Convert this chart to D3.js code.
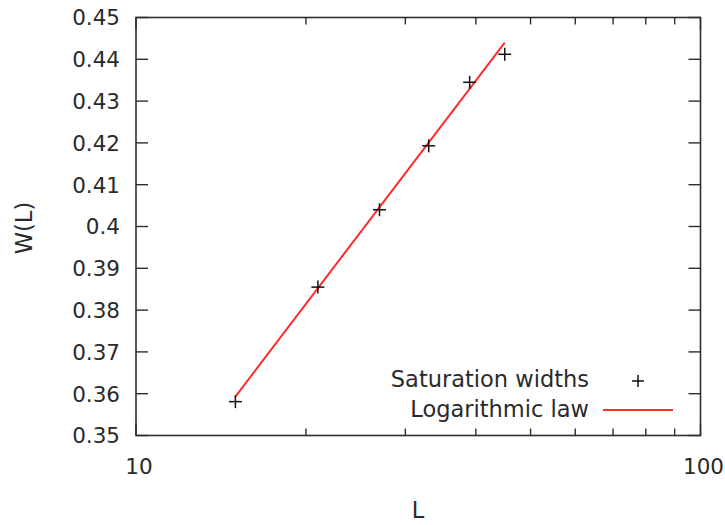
<!DOCTYPE html>
<html>
<head>
<meta charset="utf-8">
<script src="https://cdn.jsdelivr.net/npm/d3@7"></script>
<style>
  html, body { margin: 0; padding: 0; background: #fff; }
  svg { display: block; }
  text { font-family: "DejaVu Sans", sans-serif; fill: #2a2a2a; }
</style>
</head>
<body>
<svg id="chart" width="725" height="525"></svg>
<script>
// Measured saturation widths W(L) versus system size L
const sizes = [15, 21, 27, 33, 39, 45];
const widths = [0.3581, 0.3855, 0.4040, 0.4193, 0.4345, 0.4412];

// Logarithmic law W = a + b ln L, given by its two end points (straight on a log-L axis)
const lawL = [15, 45];
const lawW = [0.3593, 0.4440];

// Axis ticks
const yTicks = [0.35, 0.36, 0.37, 0.38, 0.39, 0.40, 0.41, 0.42, 0.43, 0.44, 0.45];
const yTickLabels = ["0.35", "0.36", "0.37", "0.38", "0.39", "0.4", "0.41", "0.42", "0.43", "0.44", "0.45"];
const xMajor = [10, 100];
const xMajorLabels = ["10", "100"];
const xMinor = [20, 30, 40, 50, 60, 70, 80, 90];

const seriesNames = ["Saturation widths", "Logarithmic law"];

const svg = d3.select("#chart");
const plotL = 136, plotR = 700.5, plotT = 17.5, plotB = 435.5;

const x = d3.scaleLog().domain([10, 100]).range([plotL, plotR]);
const y = d3.scaleLinear().domain([0.35, 0.45]).range([plotB, plotT]);

const axisColor = "#2e2e2e";
const major = 12, minor = 7;

// Frame
svg.append("rect")
  .attr("x", plotL).attr("y", plotT)
  .attr("width", plotR - plotL).attr("height", plotB - plotT)
  .attr("fill", "none").attr("stroke", axisColor).attr("stroke-width", 1.6);

// Y ticks (inward, mirrored on the right)
const yt = svg.append("g").attr("stroke", axisColor).attr("stroke-width", 1.4);
yTicks.forEach(v => {
  yt.append("line").attr("x1", plotL).attr("x2", plotL + major).attr("y1", y(v)).attr("y2", y(v));
  yt.append("line").attr("x1", plotR).attr("x2", plotR - major).attr("y1", y(v)).attr("y2", y(v));
});
svg.append("g").selectAll("text").data(yTicks).join("text")
  .attr("x", plotL - 16).attr("y", d => y(d) + 7.8)
  .attr("text-anchor", "end").attr("font-size", 21.5)
  .text((d, i) => yTickLabels[i]);

// X ticks (inward, mirrored on top)
const xt = svg.append("g").attr("stroke", axisColor).attr("stroke-width", 1.4);
xMajor.forEach(v => {
  xt.append("line").attr("x1", x(v)).attr("x2", x(v)).attr("y1", plotB).attr("y2", plotB - major);
  xt.append("line").attr("x1", x(v)).attr("x2", x(v)).attr("y1", plotT).attr("y2", plotT + major);
});
xMinor.forEach(v => {
  xt.append("line").attr("x1", x(v)).attr("x2", x(v)).attr("y1", plotB).attr("y2", plotB - minor);
  xt.append("line").attr("x1", x(v)).attr("x2", x(v)).attr("y1", plotT).attr("y2", plotT + minor);
});
svg.append("g").selectAll("text").data(xMajor).join("text")
  .attr("x", d => x(d) + 3).attr("y", plotB + 38)
  .attr("text-anchor", "middle").attr("font-size", 21.5)
  .text((d, i) => xMajorLabels[i]);

// Axis titles
svg.append("text").attr("x", 418).attr("y", 518)
  .attr("text-anchor", "middle").attr("font-size", 22.5).text("L");
svg.append("text")
  .attr("transform", "translate(32,228) rotate(-90)")
  .attr("text-anchor", "middle").attr("font-size", 22.5).text("W(L)");

// Fitted law
const lawPts = lawL.map((l, i) => [l, lawW[i]]);
svg.append("path")
  .attr("d", d3.line().x(d => x(d[0])).y(d => y(d[1]))(lawPts))
  .attr("fill", "none").attr("stroke", "#ff2a2a").attr("stroke-width", 2);

// Data points as "+" markers
const cross = (g, cx, cy, r) => {
  g.append("line").attr("x1", cx - r).attr("x2", cx + r).attr("y1", cy).attr("y2", cy);
  g.append("line").attr("x1", cx).attr("x2", cx).attr("y1", cy - r).attr("y2", cy + r);
};
const pts = svg.append("g").attr("stroke", "#111").attr("stroke-width", 1.5);
sizes.forEach((l, i) => cross(pts, x(l), y(widths[i]), 6.5));

// Legend
const leg = svg.append("g");
leg.append("text").attr("x", 589).attr("y", 387).attr("text-anchor", "end")
  .attr("font-size", 22.5).text(seriesNames[0]);
leg.append("text").attr("x", 589).attr("y", 417).attr("text-anchor", "end")
  .attr("font-size", 22.5).text(seriesNames[1]);
const lg = leg.append("g").attr("stroke", "#111").attr("stroke-width", 1.5);
cross(lg, 638, 381, 6);
leg.append("line").attr("x1", 603).attr("x2", 673).attr("y1", 410).attr("y2", 410)
  .attr("stroke", "#ff2a2a").attr("stroke-width", 2);
</script>
</body>
</html>
